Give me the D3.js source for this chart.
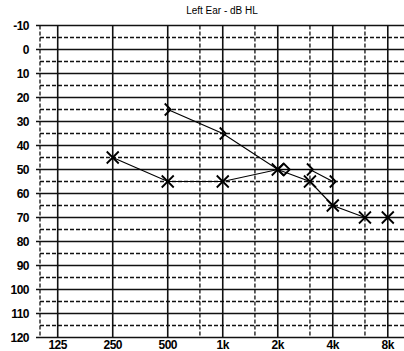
<!DOCTYPE html>
<html>
<head>
<meta charset="utf-8">
<script src="https://cdn.jsdelivr.net/npm/d3@7"></script>
<style>
  body { margin: 0; background: #fff; }
  svg { display: block; font-family: "Liberation Sans", Arial, sans-serif; }
</style>
</head>
<body>
<svg id="chart" width="404" height="351"></svg>
<script>
// audiogram data
const octaveFreqs = [125, 250, 500, 1000, 2000, 4000, 8000];
const freqLabels = ["125", "250", "500", "1k", "2k", "4k", "8k"];
const halfOctaveFreqs = [750, 1500, 3000, 6000];
const dbTicks = [-10, 0, 10, 20, 30, 40, 50, 60, 70, 80, 90, 100, 110, 120];
const dbHalfTicks = [-5, 5, 15, 25, 35, 45, 55, 65, 75, 85, 95, 105, 115];

const airFreqs = [250, 500, 1000, 2000, 3000, 4000, 6000, 8000];
const airDb = [45, 55, 55, 50, 55, 65, 70, 70];
const boneFreqs = [500, 1000, 2000, 3000, 4000];
const boneDb = [25, 35, 50, 50, 55];

let svg = d3.select("#chart");

let x = d3.scaleLog().domain([100, 10000]).range([40, 405.5]);
let y = d3.scaleLinear().domain([-10, 120]).range([25.5, 337.5]);

// title
svg.append("text")
  .attr("x", 222).attr("y", 14)
  .attr("text-anchor", "middle")
  .style("font-size", "10px")
  .text("Left Ear - dB HL");

let grid = svg.append("g");

// dashed horizontal lines at 5 dB
grid.selectAll(".hdash").data(dbHalfTicks).enter().append("line")
  .attr("x1", 40).attr("x2", 404)
  .attr("y1", d => y(d)).attr("y2", d => y(d))
  .attr("stroke", "#111").attr("stroke-width", 1.3)
  .attr("stroke-dasharray", "4,2");

// dashed verticals at half octaves and left edge
grid.selectAll(".vdash").data(halfOctaveFreqs.concat([100])).enter().append("line")
  .attr("x1", d => x(d)).attr("x2", d => x(d))
  .attr("y1", y(-10)).attr("y2", y(120))
  .attr("stroke", "#111").attr("stroke-width", 1.3)
  .attr("stroke-dasharray", "4,2");

// solid horizontal lines every 10 dB
grid.selectAll(".hsolid").data(dbTicks).enter().append("line")
  .attr("x1", 36).attr("x2", 404)
  .attr("y1", d => y(d)).attr("y2", d => y(d))
  .attr("stroke", "#111").attr("stroke-width", 1.4);

// solid verticals at octaves
grid.selectAll(".vsolid").data(octaveFreqs).enter().append("line")
  .attr("x1", d => x(d)).attr("x2", d => x(d))
  .attr("y1", y(-10)).attr("y2", y(120))
  .attr("stroke", "#111").attr("stroke-width", 1.6);

// y labels
svg.selectAll(".ylab").data(dbTicks).enter().append("text")
  .attr("x", 29).attr("y", d => y(d) + 4.5)
  .attr("text-anchor", "end")
  .style("font-size", "12px").style("font-weight", "bold")
  .style("letter-spacing", "-0.5px")
  .text(d => d);

// x labels
svg.selectAll(".xlab").data(octaveFreqs).enter().append("text")
  .attr("x", d => x(d)).attr("y", 349)
  .attr("text-anchor", "middle")
  .style("font-size", "12px").style("font-weight", "bold")
  .style("letter-spacing", "-0.5px")
  .text((d, i) => freqLabels[i]);

let line = d3.line().x(d => x(d.f)).y(d => y(d.db));

let air = airFreqs.map((f, i) => ({f: f, db: airDb[i]}));
let bone = boneFreqs.map((f, i) => ({f: f, db: boneDb[i]}));

svg.append("path").datum(bone)
  .attr("d", line).attr("fill", "none")
  .attr("stroke", "#000").attr("stroke-width", 1.2);

svg.append("path").datum(air)
  .attr("d", line).attr("fill", "none")
  .attr("stroke", "#000").attr("stroke-width", 1.2);

// air markers (X)
let s = 6;
svg.selectAll(".xm").data(air).enter().append("path")
  .attr("d", d => {
    let cx = x(d.f), cy = y(d.db);
    return "M" + (cx - s) + "," + (cy - s) + "L" + (cx + s) + "," + (cy + s) +
      "M" + (cx - s) + "," + (cy + s) + "L" + (cx + s) + "," + (cy - s);
  })
  .attr("stroke", "#000").attr("stroke-width", 1.8).attr("fill", "none");

// bone markers (>), diamond where it meets the air line at 2k
svg.selectAll(".bm").data(bone).enter().append("path")
  .attr("d", d => {
    let cx = x(d.f), cy = y(d.db);
    if (d.f == 2000) {
      return "M" + cx + "," + cy + "L" + (cx + 6) + "," + (cy - 6) + "L" + (cx + 12) + "," + cy +
        "L" + (cx + 6) + "," + (cy + 6) + "Z";
    }
    return "M" + (cx - 3) + "," + (cy - 6) + "L" + (cx + 3) + "," + cy + "L" + (cx - 3) + "," + (cy + 6);
  })
  .attr("stroke", "#000").attr("stroke-width", 1.8).attr("fill", "none");
</script>
</body>
</html>
